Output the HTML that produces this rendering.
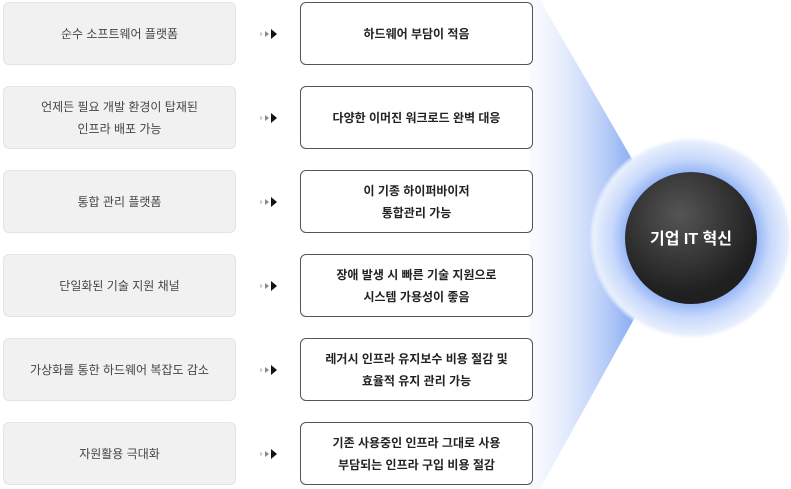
<!DOCTYPE html>
<html><head><meta charset="utf-8"><style>
body{margin:0;width:791px;height:489px;background:#fff;position:relative;overflow:hidden;font-family:"Liberation Sans","Noto Sans CJK KR",sans-serif;}
.l,.r{position:absolute;width:233px;height:63px;display:flex;align-items:center;justify-content:center;text-align:center;font-size:12px;line-height:22px;box-sizing:border-box;border-radius:6px}
.l{left:3px;background:#f1f1f1;border:1px solid #e4e4e4;color:#444}
.r{left:300px;background:#fff;border:1.5px solid #555;color:#222;font-weight:bold}
</style></head><body>
<svg width="791" height="489" style="position:absolute;left:0;top:0">
<defs>
<linearGradient id="g" x1="500" y1="0" x2="650" y2="0" gradientUnits="userSpaceOnUse">
<stop offset="0" stop-color="#fff" stop-opacity="0"/><stop offset="1" stop-color="#6a96f0"/></linearGradient>
<radialGradient id="h" cx="691" cy="238" r="102" gradientUnits="userSpaceOnUse">
<stop offset="0.62" stop-color="#8fb1f6"/><stop offset="0.78" stop-color="#c8d9fb"/><stop offset="0.95" stop-color="#e8effd"/><stop offset="1" stop-color="#fff" stop-opacity="0"/></radialGradient>
<radialGradient id="c" cx="680" cy="215" r="80" gradientUnits="userSpaceOnUse">
<stop offset="0" stop-color="#555"/><stop offset="1" stop-color="#1f1f1f"/></radialGradient>
<g id="ar"><polygon points="0,-2.5 3,0 0,2.5" fill="#ccc"/><polygon points="5,-3 9,0 5,3" fill="#888"/><polygon points="11,-5 17,0 11,5" fill="#111"/></g>
</defs>
<polygon points="530,0 540,0 650,190 650,290 540,489 530,489" fill="url(#g)"/>
<circle cx="691" cy="238" r="102" fill="url(#h)"/>
<circle cx="691" cy="238" r="66" fill="url(#c)"/>
<text x="691" y="244" fill="#fff" font-size="16" font-weight="bold" text-anchor="middle" font-family="Liberation Sans, Noto Sans CJK KR, sans-serif">기업 IT 혁신</text>
<use href="#ar" x="260" y="34"/><use href="#ar" x="260" y="118"/><use href="#ar" x="260" y="202"/>
<use href="#ar" x="260" y="286"/><use href="#ar" x="260" y="370"/><use href="#ar" x="260" y="454"/>
</svg>
<div class="l" style="top:2px">순수 소프트웨어 플랫폼</div>
<div class="l" style="top:86px">언제든 필요 개발 환경이 탑재된<br>인프라 배포 가능</div>
<div class="l" style="top:170px">통합 관리 플랫폼</div>
<div class="l" style="top:254px">단일화된 기술 지원 채널</div>
<div class="l" style="top:338px">가상화를 통한 하드웨어 복잡도 감소</div>
<div class="l" style="top:422px">자원활용 극대화</div>
<div class="r" style="top:2px">하드웨어 부담이 적음</div>
<div class="r" style="top:86px">다양한 이머진 워크로드 완벽 대응</div>
<div class="r" style="top:170px">이 기종 하이퍼바이저<br>통합관리 가능</div>
<div class="r" style="top:254px">장애 발생 시 빠른 기술 지원으로<br>시스템 가용성이 좋음</div>
<div class="r" style="top:338px">레거시 인프라 유지보수 비용 절감 및<br>효율적 유지 관리 가능</div>
<div class="r" style="top:422px">기존 사용중인 인프라 그대로 사용<br>부담되는 인프라 구입 비용 절감</div>
</body></html>
